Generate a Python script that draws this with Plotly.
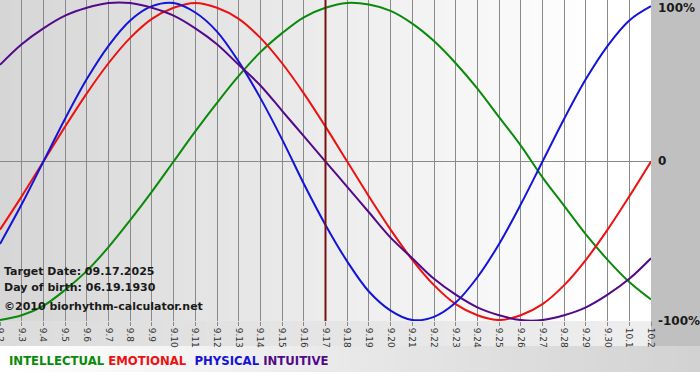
import plotly.graph_objects as go

# ---------------- data ----------------
dates = ['9.2', '9.3', '9.4', '9.5', '9.6', '9.7', '9.8', '9.9', '9.10', '9.11',
         '9.12', '9.13', '9.14', '9.15', '9.16', '9.17', '9.18', '9.19', '9.20',
         '9.21', '9.22', '9.23', '9.24', '9.25', '9.26', '9.27', '9.28', '9.29',
         '9.30', '10.1', '10.2']

intellectual = [-100, -97, -91, -81, -69, -54, -37, -19, 0, 19, 37, 54, 69, 81, 91,
                97, 100, 99, 95, 87, 76, 62, 46, 28, 10, -10, -28, -46, -62, -76, -87]
emotional = [-43, -22, 0, 22, 43, 62, 78, 90, 97, 100, 97, 90, 78, 62, 43, 22, 0,
             -22, -43, -62, -78, -90, -97, -100, -97, -90, -78, -62, -43, -22, 0]
physical = [-52, -27, 0, 27, 52, 73, 89, 98, 100, 94, 82, 63, 40, 14, -14, -40, -63,
            -82, -94, -100, -98, -89, -73, -52, -27, 0, 27, 52, 73, 89, 98]
intuitive = [61, 74, 84, 92, 97, 100, 100, 97, 92, 84, 74, 61, 48, 32, 16, 0, -16,
             -32, -48, -61, -74, -84, -92, -97, -100, -100, -97, -92, -84, -74, -61]

series_names = ['INTELLECTUAL', 'EMOTIONAL', 'PHYSICAL', 'INTUITIVE']
series_values = [intellectual, emotional, physical, intuitive]
series_colors = ['#0a8a0a', '#ee1111', '#1414d8', '#520a8a']

target_day = '9.17'
target_text = 'Target Date: 09.17.2025'
birth_text = 'Day of birth: 06.19.1930'
copyright_text = '\u00a92010 biorhythm-calculator.net'
y_tick_text = ['100%', '0', '-100%']

# ---------------- figure ----------------
W, H = 700, 380
plot_w, plot_h = 651, 321
FONT = 'DejaVu Sans'

fig = go.Figure()
for name, vals, col in zip(series_names, series_values, series_colors):
    fig.add_trace(go.Scatter(x=dates, y=vals, mode='lines', name=name,
                             line=dict(color=col, width=2, shape='spline', smoothing=1.0),
                             hoverinfo='skip'))

px = lambda p: p / plot_w
py = lambda p: 1 - p / plot_h

shapes = []
n = 60
# gradient plot background
for k in range(n):
    t = k / (n - 1)
    g = int(round(0xd6 + (0xff - 0xd6) * min(1.0, t * 1.08)))
    shapes.append(dict(type='rect', xref='paper', yref='paper',
                       x0=k / n, x1=(k + 1) / n + 0.001, y0=0, y1=1,
                       fillcolor=f'rgb({g},{g},{g})', line=dict(width=0), layer='below'))
# strip below plot (x labels)
for k in range(n):
    t = k / (n - 1)
    g = int(round(0xdc + (0xee - 0xdc) * t))
    shapes.append(dict(type='rect', xref='paper', yref='paper',
                       x0=k / n, x1=(k + 1) / n + 0.001, y0=py(346), y1=0,
                       fillcolor=f'rgb({g},{g},{g})', line=dict(width=0), layer='below'))
# legend strip gradient white -> gray
for k in range(n):
    t = k / (n - 1)
    g = int(round(0xff - (0xff - 0xd2) * t))
    shapes.append(dict(type='rect', xref='paper', yref='paper',
                       x0=px(k * W / n), x1=px((k + 1) * W / n) + 0.001, y0=py(372), y1=py(346),
                       fillcolor=f'rgb({g},{g},{g})', line=dict(width=0), layer='below'))
# right panel
shapes.append(dict(type='rect', xref='paper', yref='paper', x0=1, x1=px(W), y0=py(346), y1=1,
                   fillcolor='#c0c0c0', line=dict(width=0), layer='below'))
# target date line
shapes.append(dict(type='line', xref='x', yref='paper', x0=dates.index(target_day),
                   x1=dates.index(target_day), y0=0, y1=1,
                   line=dict(color='#7a1010', width=2), layer='above'))

annotations = []
for txt, yp in zip([target_text, birth_text, copyright_text], [271, 287, 306]):
    annotations.append(dict(xref='paper', yref='paper', x=px(2), y=py(yp),
                            xanchor='left', yanchor='middle', showarrow=False,
                            text=f'<b>{txt}</b>', font=dict(family=FONT, size=11, color='#1a1a1a')))
for t, yp in zip(y_tick_text, [8, 161, 321]):
    annotations.append(dict(xref='paper', yref='paper', x=px(656), y=py(yp),
                            xanchor='left', yanchor='middle', showarrow=False,
                            text=f'<b>{t}</b>', font=dict(family=FONT, size=12, color='#1a1a1a')))
legend_html = '&nbsp;'.join(
    f"<span style='color:{c}'>{nm}</span>" + ('&nbsp;' if nm == 'EMOTIONAL' else '')
    for nm, c in zip(series_names, series_colors))
annotations.append(dict(xref='paper', yref='paper', x=px(7), y=py(361),
                        xanchor='left', yanchor='middle', showarrow=False,
                        text=f'<b>{legend_html}</b>', font=dict(family=FONT, size=11.7)))

fig.update_layout(
    width=W, height=H,
    margin=dict(l=0, r=W - plot_w, t=0, b=H - plot_h, pad=0, autoexpand=False),
    paper_bgcolor='#ffffff', plot_bgcolor='#ffffff',
    showlegend=False,
    shapes=shapes, annotations=annotations,
    xaxis=dict(type='category', range=[0, len(dates) - 1], showgrid=True,
               gridcolor='#8a8a8a', gridwidth=1, tickangle=90,
               ticks='outside', ticklen=4, tickcolor='#8a8a8a',
               tickfont=dict(family=FONT, size=9, color='#333333'),
               showline=False, zeroline=False, fixedrange=True, automargin=False),
    yaxis=dict(range=[-100.6, 101.9], showgrid=False, showticklabels=False,
               zeroline=True, zerolinecolor='#8a8a8a', zerolinewidth=1,
               showline=False, fixedrange=True, automargin=False),
)

fig.write_html('out.html', config={'displayModeBar': False},
               post_script="document.body.style.margin='0';document.body.style.overflow='hidden';")
